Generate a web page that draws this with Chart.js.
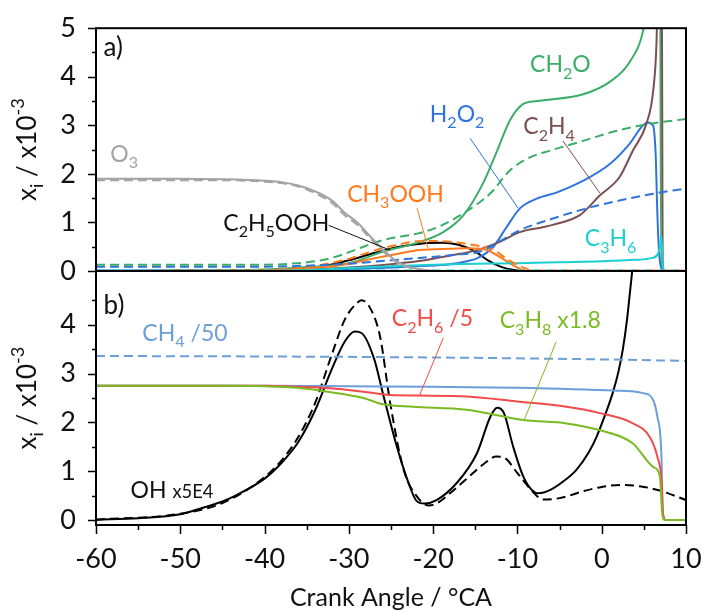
<!DOCTYPE html>
<html>
<head>
<meta charset="utf-8">
<script src="https://cdn.jsdelivr.net/npm/chart.js@4.4.1/dist/chart.umd.min.js"></script>
<style>
  html, body { margin: 0; padding: 0; background: #fff; }
  #wrap { position: relative; width: 703px; height: 610px; }
  #wrap canvas { position: absolute; left: 0; top: 0; }
</style>
</head>
<body>
<div id="wrap">
  <canvas id="chartA" width="703" height="610"></canvas>
  <canvas id="chartB" width="703" height="610"></canvas>
</div>
<script>
// ---- panel a) mole fractions (x10^-3) ----
const o3X   = [-60, -50, -45, -40, -38, -36, -34, -32, -30.5, -29, -27.5, -26, -24.5, -23, -21, -19, 10];
const o3Y   = [1.9, 1.9, 1.89, 1.86, 1.83, 1.76, 1.64, 1.45, 1.2, 1.0, 0.72, 0.45, 0.22, 0.09, 0.02, 0, 0];
const o3dY  = [1.87, 1.87, 1.87, 1.84, 1.81, 1.74, 1.6, 1.4, 1.15, 0.95, 0.68, 0.42, 0.2, 0.08, 0.02, 0, 0];

const ch2oX  = [-60, -45, -40, -35, -30, -25.9, -21.9, -18.8, -16.4, -14.1, -12.4, -10.9, -9.3, -7.7, -2.2, 1, 3.3, 4.9, 5.5, 6.5, 6.9, 7.05, 10];
const ch2oY  = [0, 0.01, 0.03, 0.08, 0.16, 0.4, 0.58, 0.8, 1.15, 1.8, 2.48, 3.1, 3.44, 3.5, 3.64, 3.9, 4.3, 4.94, 5.6, 8, 8, 0, 0];
const ch2odX = [-60, -40, -37, -34, -31.8, -29.8, -25.9, -21.9, -19.5, -16.4, -13.2, -10.9, -8.5, -6.1, -2.2, 1.8, 5.7, 10];
const ch2odY = [0.13, 0.13, 0.15, 0.2, 0.28, 0.4, 0.64, 0.77, 0.9, 1.19, 1.6, 2.07, 2.34, 2.48, 2.68, 2.89, 3.03, 3.13];

const h2o2X  = [-60, -40, -30, -25, -21.9, -18, -16, -14.8, -12.9, -11.3, -9.7, -7.7, -5.3, -2.2, 1, 3.3, 4.9, 5.5, 6.1, 6.4, 6.6, 6.8, 7.1, 7.5, 10];
const h2o2Y  = [0.01, 0.01, 0.04, 0.07, 0.1, 0.14, 0.2, 0.26, 0.49, 0.9, 1.29, 1.49, 1.62, 1.86, 2.21, 2.62, 3.0, 3.06, 2.99, 2.4, 1.2, 0.4, 0.05, 0, 0];
const h2o2dX = [-60, -40, -35, -30, -25, -21.6, -17.6, -14.4, -13, -12, -11, -9.7, -5.8, -1.8, 2.1, 6.1, 10];
const h2o2dY = [0.09, 0.09, 0.11, 0.15, 0.22, 0.27, 0.33, 0.4, 0.52, 0.62, 0.72, 0.84, 1.08, 1.29, 1.45, 1.59, 1.7];

const c2h4X = [-60, -40, -35, -30, -25, -21.9, -17.6, -15, -13.6, -12.1, -9.7, -7, -5.8, -2.6, -0.2, 2.1, 3.7, 5.3, 6.1, 6.5, 6.8, 7.1, 7.25, 10];
const c2h4Y = [0, 0.01, 0.03, 0.07, 0.14, 0.2, 0.33, 0.42, 0.5, 0.6, 0.8, 0.9, 0.95, 1.15, 1.56, 1.93, 2.48, 3.03, 3.7, 4.7, 7, 7, 0, 0];

const c3h6X  = [-60, -40, -35, -30, -25, -20, -15, -10, -5, 0, 4, 6, 6.7, 6.95, 7.1, 7.25, 7.6, 10];
const c3h6Y  = [0, 0, 0.02, 0.06, 0.1, 0.13, 0.15, 0.16, 0.18, 0.2, 0.23, 0.27, 0.36, 0.55, 0.72, 0.08, 0, 0];
const c3h6dX = [-60, 10];
const c3h6dY = [0.01, 0.01];

const ch3oohX  = [-60, -40, -35, -30, -27, -24, -21.6, -18, -15.6, -13.6, -12.1, -10.1, -9, 10];
const ch3oohY  = [0, 0.01, 0.05, 0.15, 0.26, 0.36, 0.43, 0.46, 0.47, 0.43, 0.29, 0.08, 0, 0];
const ch3oohdX = [-60, -40, -35, -30, -27, -24, -21, -18, -15, -13, -11, -9, -8, 10];
const ch3oohdY = [0, 0.02, 0.08, 0.25, 0.42, 0.55, 0.62, 0.6, 0.53, 0.45, 0.22, 0.05, 0.01, 0.01];

const c2h5oohX = [-60, -40, -36, -33, -30, -27, -24, -21, -19, -17, -15, -13.5, -12, -10, -9, 10];
const c2h5oohY = [0, 0.01, 0.04, 0.1, 0.22, 0.37, 0.5, 0.57, 0.58, 0.54, 0.4, 0.22, 0.09, 0.01, 0, 0];

// ---- panel b) fuel components and OH ----
const ch4X  = [-60, -40, -30, -20, -10.1, 1.8, 4.9, 6.1, 6.6, 7.1, 7.2, 7.6, 10];
const ch4Y  = [2.75, 2.75, 2.74, 2.73, 2.71, 2.65, 2.6, 2.46, 2.12, 1.23, 0.2, 0, 0];
const ch4dX = [-60, -40, -20, 0, 10];
const ch4dY = [3.36, 3.35, 3.33, 3.29, 3.26];

const c2h6X = [-60, -40, -36.1, -32.2, -28.3, -25.1, -21.9, -16, -10.1, -4.2, -0.2, 3.7, 5.7, 6.6, 7.1, 7.3, 7.6, 10];
const c2h6Y = [2.75, 2.75, 2.73, 2.7, 2.63, 2.56, 2.55, 2.53, 2.43, 2.32, 2.19, 1.98, 1.7, 1.3, 0.82, 0.1, 0, 0];

const c3h8X = [-60, -45, -40, -36.1, -32.2, -28.3, -25.9, -22.4, -16, -9.3, -4.2, -0.2, 3.7, 6.1, 6.9, 7.2, 7.5, 10];
const c3h8Y = [2.75, 2.75, 2.74, 2.71, 2.62, 2.5, 2.37, 2.32, 2.26, 2.05, 1.98, 1.84, 1.57, 1.09, 0.89, 0.1, 0, 0];

const ohX = [-60, -55, -50, -47.6, -45, -43.7, -40, -38, -36, -34, -32, -30.5, -29.3, -28.5, -27, -26, -24.3, -23, -22, -21, -19.6, -17.2, -14.8, -13.2, -12.4, -11.6, -10.5, -9.3, -8.3, -7.5, -6.1, -4.5, -3, -1.5, -0.6, 0.5, 1.3, 2, 2.5, 3, 3.3, 3.6, 3.8];
const ohY = [0.01, 0.04, 0.12, 0.24, 0.38, 0.48, 0.85, 1.17, 1.6, 2.25, 3.1, 3.65, 3.86, 3.83, 3.3, 2.62, 1.5, 0.8, 0.4, 0.34, 0.41, 0.76, 1.37, 2.12, 2.3, 2.19, 1.5, 0.89, 0.62, 0.55, 0.62, 0.8, 1.03, 1.4, 1.71, 2.2, 2.6, 3.05, 3.49, 4.1, 4.58, 5.07, 5.4];
const ohdX = [-60, -50, -45, -40, -38, -36, -34, -32, -30.5, -29, -28.5, -27.5, -26.3, -25.1, -23.5, -22, -20.5, -19.5, -18, -16, -14, -12.5, -11.5, -10, -8, -7, -5, -2, 0, 2.5, 5, 7, 10];
const ohdY = [0.01, 0.13, 0.35, 0.88, 1.22, 1.7, 2.4, 3.4, 4.1, 4.45, 4.5, 4.35, 3.76, 2.4, 1.03, 0.5, 0.3, 0.35, 0.55, 0.85, 1.15, 1.3, 1.27, 0.96, 0.55, 0.42, 0.45, 0.6, 0.68, 0.72, 0.68, 0.6, 0.41];

const xTicks = [-60, -50, -40, -30, -20, -10, 0, 10];
const yTicksA = [0, 1, 2, 3, 4, 5];
const yTicksB = [0, 1, 2, 3, 4];

const FONT = 'Lato, "Open Sans", "DejaVu Sans", sans-serif';
const WEIGHT = '400';
const GRAY = '#a3a3a3', GREEN = '#3cad68', BLUE = '#2f74dd', BROWN = '#7a5050',
      CYAN = '#1ccfd0', ORANGE = '#ff7a1c', SKY = '#6c9fd8', RED = '#f34a4a', LIME = '#79bb22';

function series(xs, ys, color, dashed) {
  return {
    data: xs.map((x, i) => ({ x: x, y: ys[i] })),
    borderColor: color,
    borderWidth: 2,
    borderDash: dashed ? [9, 5] : [],
    pointRadius: 0,
    fill: false,
    cubicInterpolationMode: 'monotone'
  };
}

// sizes for the text parts: '' normal, 'b' subscript, 'p' superscript, 's' small
function partSpec(kind, size) {
  if (kind === 'b') return { s: size * 0.7, dy: size * 0.28 };
  if (kind === 'p') return { s: size * 0.7, dy: -size * 0.45 };
  if (kind === 's') return { s: size * 0.8, dy: 0 };
  return { s: size, dy: 0 };
}

function richText(ctx, parts, x, y, size, color) {
  ctx.save();
  ctx.fillStyle = color;
  ctx.textBaseline = 'alphabetic';
  ctx.textAlign = 'left';
  let cx = x;
  parts.forEach(([t, k]) => {
    const sp = partSpec(k, size);
    ctx.font = WEIGHT + ' ' + sp.s + 'px ' + FONT;
    ctx.fillText(t, cx, y + sp.dy);
    cx += ctx.measureText(t).width;
  });
  ctx.restore();
}

function richWidth(ctx, parts, size) {
  let w = 0;
  parts.forEach(([t, k]) => {
    ctx.font = WEIGHT + ' ' + partSpec(k, size).s + 'px ' + FONT;
    w += ctx.measureText(t).width;
  });
  return w;
}

// frame, tick marks, labels, leader lines and y title
function decorPlugin(cfg) {
  return {
    id: 'decor',
    afterDraw(chart) {
      const { ctx, chartArea: a, scales } = chart;
      const xs = scales.x, ys = scales.y;
      ctx.save();
      ctx.strokeStyle = '#000';
      ctx.lineWidth = 2;
      ctx.strokeRect(a.left, a.top, a.right - a.left, a.bottom - a.top);
      ctx.lineWidth = 1.5;
      ctx.beginPath();
      cfg.yMinor.forEach(v => {
        const py = Math.round(ys.getPixelForValue(v)) + 0.5;
        const len = Number.isInteger(v) ? 8 : 4;
        ctx.moveTo(a.left, py); ctx.lineTo(a.left - len, py);
      });
      if (cfg.xMinor) {
        cfg.xMinor.forEach(v => {
          const px = Math.round(xs.getPixelForValue(v)) + 0.5;
          const len = v % 10 === 0 ? 9 : 5;
          ctx.moveTo(px, a.bottom); ctx.lineTo(px, a.bottom + len);
        });
      }
      ctx.stroke();

      // leader lines
      ctx.lineWidth = 1;
      cfg.leaders.forEach(l => {
        ctx.strokeStyle = l.color;
        ctx.beginPath();
        ctx.moveTo(xs.getPixelForValue(l.x0), ys.getPixelForValue(l.y0));
        ctx.lineTo(xs.getPixelForValue(l.x1), ys.getPixelForValue(l.y1));
        ctx.stroke();
      });
      ctx.restore();

      cfg.labels.forEach(l => {
        const px = xs.getPixelForValue(l.x);
        const py = ys.getPixelForValue(l.y);
        richText(ctx, l.parts, px, py + l.size * 0.36, l.size, l.color);
      });

      // rotated y title
      const tParts = [['x', ''], ['i', 'b'], [' / x10', ''], ['-3', 'p']];
      const tSize = 26;
      const w = richWidth(ctx, tParts, tSize);
      const cy = (a.top + a.bottom) / 2;
      ctx.save();
      ctx.translate(36, cy);
      ctx.rotate(-Math.PI / 2);
      richText(ctx, tParts, -w / 2, 0, tSize, '#111');
      ctx.restore();
    }
  };
}

function yAxis(min, max, ticks) {
  return {
    type: 'linear', min: min, max: max,
    afterFit: s => { s.width = 96; },
    afterBuildTicks: s => { s.ticks = ticks.map(v => ({ value: v })); },
    grid: { display: false },
    border: { display: false },
    ticks: { padding: 12, color: '#111', font: { family: FONT, size: 27, weight: WEIGHT } }
  };
}

const halfSteps = (lo, hi) => { const r = []; for (let v = lo; v <= hi + 1e-9; v += 0.5) r.push(v); return r; };
const fiveSteps = []; for (let v = -60; v <= 10; v += 5) fiveSteps.push(v);

// panel a)
new Chart(document.getElementById('chartA'), {
  type: 'line',
  data: {
    datasets: [
      series(o3X, o3dY, GRAY, true),
      series(o3X, o3Y, GRAY, false),
      series(c3h6dX, c3h6dY, CYAN, true),
      series(ch2odX, ch2odY, GREEN, true),
      series(h2o2dX, h2o2dY, BLUE, true),
      series(ch3oohdX, ch3oohdY, ORANGE, true),
      series(c3h6X, c3h6Y, CYAN, false),
      series(ch3oohX, ch3oohY, ORANGE, false),
      series(c2h4X, c2h4Y, BROWN, false),
      series(h2o2X, h2o2Y, BLUE, false),
      series(ch2oX, ch2oY, GREEN, false),
      series(c2h5oohX, c2h5oohY, '#000', false)
    ]
  },
  options: {
    responsive: false,
    animation: false,
    devicePixelRatio: 1,
    layout: { padding: { top: 27, right: 17, bottom: 339, left: 0 } },
    plugins: { legend: { display: false }, tooltip: { enabled: false } },
    scales: {
      x: { type: 'linear', min: -60, max: 10, display: false },
      y: yAxis(0, 5, yTicksA)
    }
  },
  plugins: [decorPlugin({
    yMinor: halfSteps(0, 5),
    labels: [
      { parts: [['a)', '']], x: -59.1, y: 4.63, size: 26, color: '#111' },
      { parts: [['O', ''], ['3', 'b']], x: -58.3, y: 2.42, size: 23, color: GRAY },
      { parts: [['C', ''], ['2', 'b'], ['H', ''], ['5', 'b'], ['OOH', '']], x: -44.9, y: 1.0, size: 23, color: '#111' },
      { parts: [['CH', ''], ['3', 'b'], ['OOH', '']], x: -30.2, y: 1.6, size: 23, color: ORANGE },
      { parts: [['H', ''], ['2', 'b'], ['O', ''], ['2', 'b']], x: -20.4, y: 3.24, size: 23, color: BLUE },
      { parts: [['C', ''], ['2', 'b'], ['H', ''], ['4', 'b']], x: -9.3, y: 2.99, size: 23, color: BROWN },
      { parts: [['CH', ''], ['2', 'b'], ['O', '']], x: -8.5, y: 4.26, size: 23, color: GREEN },
      { parts: [['C', ''], ['3', 'b'], ['H', ''], ['6', 'b']], x: -2.0, y: 0.68, size: 23, color: CYAN }
    ],
    leaders: [
      { x0: -32.4, y0: 0.94, x1: -25.1, y1: 0.43, color: '#111' },
      { x0: -21.9, y0: 1.29, x1: -20.6, y1: 0.47, color: ORANGE },
      { x0: -15.6, y0: 2.73, x1: -9.9, y1: 1.29, color: BLUE },
      { x0: -4.6, y0: 2.68, x1: -0.2, y1: 1.6, color: BROWN }
    ]
  })]
});

// panel b)
new Chart(document.getElementById('chartB'), {
  type: 'line',
  data: {
    datasets: [
      series(ch4dX, ch4dY, SKY, true),
      series(c3h8X, c3h8Y, LIME, false),
      series(c2h6X, c2h6Y, RED, false),
      series(ch4X, ch4Y, SKY, false),
      series(ohdX, ohdY, '#000', true),
      series(ohX, ohY, '#000', false)
    ]
  },
  options: {
    responsive: false,
    animation: false,
    devicePixelRatio: 1,
    layout: { padding: { top: 271, right: 17, bottom: 0, left: 0 } },
    plugins: { legend: { display: false }, tooltip: { enabled: false } },
    scales: {
      x: {
        type: 'linear', min: -60, max: 10,
        afterFit: s => { s.height = 85; s.paddingLeft = 0; s.paddingRight = 0; },
        afterBuildTicks: s => { s.ticks = xTicks.map(v => ({ value: v })); },
        grid: { display: false },
        border: { display: false },
        ticks: { padding: 10, maxRotation: 0, color: '#111', font: { family: FONT, size: 27, weight: WEIGHT } },
        title: {
          display: true, text: 'Crank Angle / °CA', color: '#111',
          padding: { top: 0, bottom: 0 },
          font: { family: FONT, size: 25, weight: WEIGHT, lineHeight: 1 }
        }
      },
      y: yAxis(-0.1, 5.1, yTicksB)
    }
  },
  plugins: [decorPlugin({
    yMinor: halfSteps(0, 4.5),
    xMinor: fiveSteps,
    labels: [
      { parts: [['b)', '']], x: -59.1, y: 4.41, size: 26, color: '#111' },
      { parts: [['CH', ''], ['4', 'b'], [' /50', '']], x: -54.5, y: 3.84, size: 23, color: SKY },
      { parts: [['C', ''], ['2', 'b'], ['H', ''], ['6', 'b'], [' /5', '']], x: -24.9, y: 4.14, size: 23, color: RED },
      { parts: [['C', ''], ['3', 'b'], ['H', ''], ['8', 'b'], [' x1.8', '']], x: -12.1, y: 4.1, size: 23, color: LIME },
      { parts: [['OH ', ''], ['x5E4', 's']], x: -55.9, y: 0.62, size: 23, color: '#111' }
    ],
    leaders: [
      { x0: -18.8, y0: 3.73, x1: -21.6, y1: 2.56, color: RED },
      { x0: -5.4, y0: 3.65, x1: -9.2, y1: 2.05, color: LIME }
    ]
  })]
});
</script>
</body>
</html>
